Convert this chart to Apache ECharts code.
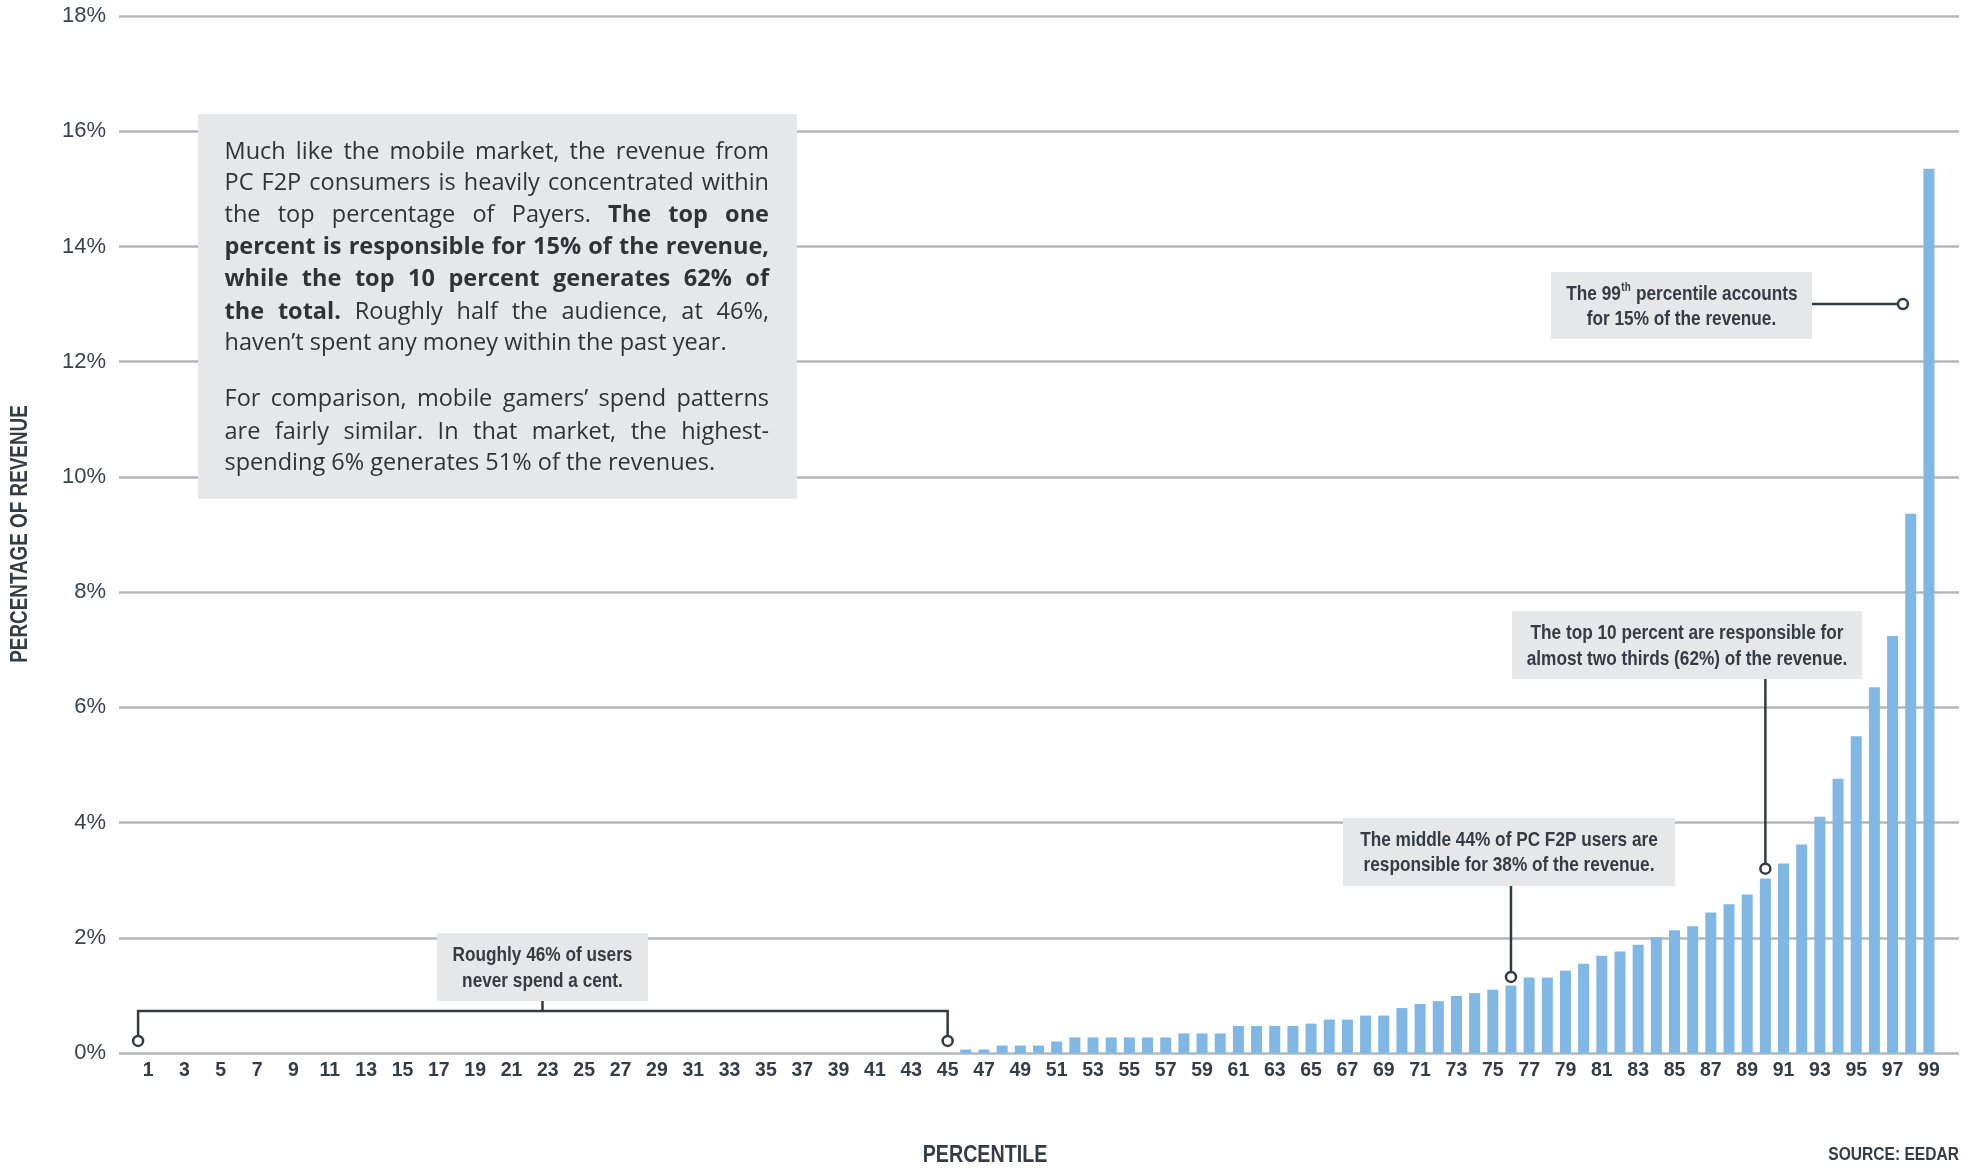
<!DOCTYPE html>
<html>
<head>
<meta charset="utf-8">
<title>PC F2P revenue by spender percentile</title>
<script src="https://cdn.jsdelivr.net/npm/echarts@6/dist/echarts.min.js"></script>
<style>
  html, body { margin: 0; padding: 0; background: #ffffff; }
  #chart { width: 1971px; height: 1168px; }
</style>
</head>
<body>
<div id="chart"></div>
<script>
// ---- data ---------------------------------------------------------------
const percentiles = Array.from({ length: 99 }, (_, i) => String(i + 1));

// share of total revenue (%) generated by each percentile of users
const revenueShare = [
  0, 0, 0, 0, 0, 0, 0, 0, 0, 0,                               // 1-10
  0, 0, 0, 0, 0, 0, 0, 0, 0, 0,                               // 11-20
  0, 0, 0, 0, 0, 0, 0, 0, 0, 0,                               // 21-30
  0, 0, 0, 0, 0, 0, 0, 0, 0, 0,                               // 31-40
  0, 0, 0, 0, 0, 0.06, 0.06, 0.13, 0.13, 0.13,                // 41-50
  0.20, 0.27, 0.27, 0.27, 0.27, 0.27, 0.27, 0.34, 0.34, 0.34, // 51-60
  0.47, 0.47, 0.47, 0.47, 0.51, 0.58, 0.58, 0.65, 0.65, 0.78, // 61-70
  0.85, 0.90, 0.99, 1.04, 1.10, 1.17, 1.31, 1.31, 1.43, 1.55, // 71-80
  1.69, 1.76, 1.88, 2.01, 2.13, 2.20, 2.44, 2.58, 2.75, 3.03, // 81-90
  3.29, 3.62, 4.10, 4.76, 5.50, 6.35, 7.24, 9.36, 15.35       // 91-99
];

const yMin = 0;
const yMax = 18;
const yStep = 2;

const paragraphLines = [
  { text: 'Much like the mobile market, the revenue from', justify: true },
  { text: 'PC F2P consumers is heavily concentrated within', justify: true },
  { text: 'the top percentage of Payers. **The top one**', justify: true },
  { text: '**percent is responsible for 15% of the revenue,**', justify: true },
  { text: '**while the top 10 percent generates 62% of**', justify: true },
  { text: '**the total.** Roughly half the audience, at 46%,', justify: true },
  { text: 'haven\u2019t spent any money within the past year.', justify: false },
  { text: 'For comparison, mobile gamers\u2019 spend patterns', justify: true },
  { text: 'are fairly similar. In that market, the highest-', justify: true },
  { text: 'spending 6% generates 51% of the revenues.', justify: false }
];

// ---- styling ------------------------------------------------------------
const SANS = '"Liberation Sans", Arial, sans-serif';
const BODY = '"Open Sans", "Noto Sans", sans-serif';
const NARROW_SCALE = 0.82;          // horizontal squeeze for the condensed captions
const INK = '#353c44';
const LEADER = '#323a42';
const GRID_GREY = '#b5b6b9';
const BAR_BLUE = '#80b7e4';
const NOTE_FILL = '#e6e7e8';

const chart = echarts.init(document.getElementById('chart'), null, { renderer: 'canvas' });

chart.setOption({
  animation: false,
  backgroundColor: '#ffffff',
  grid: [
    { left: 119, right: 12, top: 16, bottom: 115 },   // horizontal rules + value labels
    { left: 139, right: 33, top: 16, bottom: 115 }    // bars
  ],
  xAxis: [
    { gridIndex: 0, type: 'value', show: false, min: 0, max: 1 },
    {
      gridIndex: 1, type: 'category', data: percentiles,
      axisLine: { show: false }, axisTick: { show: false },
      axisLabel: {
        interval: 1, margin: 8, color: INK,
        fontFamily: SANS, fontWeight: 'bold', fontSize: 19.5
      }
    },
    { gridIndex: 1, type: 'value', show: false, min: 0.5, max: 99.5 }
  ],
  yAxis: [
    {
      gridIndex: 0, type: 'value', min: yMin, max: yMax, interval: yStep,
      axisLine: { show: false }, axisTick: { show: false },
      axisLabel: {
        formatter: '{value}%', margin: 13, color: '#3a424a',
        fontFamily: SANS, fontSize: 22
      },
      splitLine: { lineStyle: { color: GRID_GREY, width: 2.5 } }
    },
    { gridIndex: 1, type: 'value', min: yMin, max: yMax, interval: yStep, show: false }
  ],
  series: [{
    type: 'bar',
    xAxisIndex: 1,
    yAxisIndex: 1,
    data: revenueShare,
    barWidth: 11,
    silent: true,
    itemStyle: { color: BAR_BLUE }
  }]
});

// ---- annotations ----------------------------------------------------------
const measureCtx = document.createElement('canvas').getContext('2d');
function textWidth(str, font) {
  measureCtx.font = font;
  return measureCtx.measureText(str).width;
}
function text(str, x, y, font, align, fill, extra) {
  return Object.assign({
    type: 'text', x: x, y: y, z: 30, silent: true,
    style: { text: str, font: font, fill: fill || INK, textAlign: align || 'left', textVerticalAlign: 'middle' }
  }, extra || {});
}
// condensed caption text: bold sans squeezed horizontally
function ntext(str, x, y, size, align, extra) {
  return text(str, x, y, 'bold ' + size + 'px ' + SANS, align, INK,
    Object.assign({ scaleX: NARROW_SCALE, scaleY: 1 }, extra || {}));
}
function box(x, y, w, h) {
  return { type: 'rect', z: 20, silent: true, shape: { x: x, y: y, width: w, height: h }, style: { fill: NOTE_FILL } };
}
function leader(points) {
  return {
    type: 'polyline', z: 25, silent: true,
    shape: { points: points },
    style: { stroke: LEADER, lineWidth: 2.5, fill: null }
  };
}
function ring(p) {
  return {
    type: 'circle', z: 26, silent: true,
    shape: { cx: p[0], cy: p[1], r: 5 },
    style: { fill: '#ffffff', stroke: LEADER, lineWidth: 2.5 }
  };
}
const toPx = (pct, val) => chart.convertToPixel({ xAxisIndex: 2, yAxisIndex: 1 }, [pct, val]);

const NOTE_SIZE = 21;
const els = [];

// side paragraph, justified word by word
const PARA = { x: 198, y: 114, w: 599, h: 385, left: 224.5, right: 769 };
const paraRows = [152, 183, 215, 247, 279, 312, 343, 399, 432, 463];
const BODY_SIZE = 23.5;
const bodyFont = bold => (bold ? 'bold ' : '') + BODY_SIZE + 'px ' + BODY;
els.push(box(PARA.x, PARA.y, PARA.w, PARA.h));
paragraphLines.forEach((ln, i) => {
  const words = [];
  let bold = false;
  ln.text.split(' ').forEach(tok => {
    let t = tok;
    if (t.startsWith('**')) { bold = true; t = t.slice(2); }
    let close = false;
    if (t.endsWith('**')) { t = t.slice(0, -2); close = true; }
    words.push({ t: t, b: bold, w: textWidth(t, bodyFont(bold)) });
    if (close) bold = false;
  });
  const total = words.reduce((s, w) => s + w.w, 0);
  const span = PARA.right - PARA.left;
  const gap = ln.justify && words.length > 1
    ? (span - total) / (words.length - 1)
    : textWidth(' ', bodyFont(false));
  let x = PARA.left;
  words.forEach(w => {
    els.push(text(w.t, x, paraRows[i], bodyFont(w.b), 'left', '#2e3338'));
    x += w.w + gap;
  });
});

// the 99th percentile note
{
  const bx = 1551, by = 272, bw = 261, bh = 67, cx = bx + bw / 2;
  els.push(box(bx, by, bw, bh));
  const mainFont = 'bold ' + NOTE_SIZE + 'px ' + SANS;
  const supFont = 'bold 12px ' + SANS;
  const a = 'The 99', s = 'th', b = ' percentile accounts';
  const wa = textWidth(a, mainFont) * NARROW_SCALE;
  const ws = textWidth(s, supFont) * NARROW_SCALE;
  const wb = textWidth(b, mainFont) * NARROW_SCALE;
  const x = cx - (wa + ws + wb) / 2;
  els.push(ntext(a, x, 294, NOTE_SIZE, 'left'));
  els.push(ntext(s, x + wa + 0.5, 288, 12, 'left'));
  els.push(ntext(b, x + wa + ws + 1, 294, NOTE_SIZE, 'left'));
  els.push(ntext('for 15% of the revenue.', cx, 319, NOTE_SIZE, 'center'));
  const p = toPx(97.57, 13);
  els.push(leader([[bx + bw, p[1]], [p[0] - 5, p[1]]]));
  els.push(ring(p));
}

// top 10 percent note
{
  const bx = 1512, by = 611, bw = 350, bh = 68, cx = bx + bw / 2;
  els.push(box(bx, by, bw, bh));
  els.push(ntext('The top 10 percent are responsible for', cx, 633, NOTE_SIZE, 'center'));
  els.push(ntext('almost two thirds (62%) of the revenue.', cx, 659, NOTE_SIZE, 'center'));
  const p = toPx(90, 3.2);
  els.push(leader([[p[0], by + bh], [p[0], p[1] - 5]]));
  els.push(ring(p));
}

// middle 44 percent note
{
  const bx = 1343, by = 818, bw = 332, bh = 68, cx = bx + bw / 2;
  els.push(box(bx, by, bw, bh));
  els.push(ntext('The middle 44% of PC F2P users are', cx, 840, NOTE_SIZE, 'center'));
  els.push(ntext('responsible for 38% of the revenue.', cx, 865, NOTE_SIZE, 'center'));
  const p = toPx(76, 1.32);
  els.push(leader([[p[0], by + bh], [p[0], p[1] - 5]]));
  els.push(ring(p));
}

// non-spenders bracket
{
  const bx = 437, by = 933, bw = 211, bh = 68, cx = bx + bw / 2;
  els.push(box(bx, by, bw, bh));
  els.push(ntext('Roughly 46% of users', cx, 955, NOTE_SIZE, 'center'));
  els.push(ntext('never spend a cent.', cx, 981, NOTE_SIZE, 'center'));
  const l = toPx(0.45, 0.21);
  const r = toPx(45, 0.21);
  const level = toPx(22.68, 0.73)[1];
  els.push(leader([[l[0], l[1] - 5], [l[0], level], [r[0], level], [r[0], r[1] - 5]]));
  els.push(leader([[cx, by + bh], [cx, level]]));
  els.push(ring(l));
  els.push(ring(r));
}

// axis titles and source
els.push(ntext('PERCENTAGE OF REVENUE', 21, 534, 23, 'center', { rotation: Math.PI / 2 }));
els.push(ntext('PERCENTILE', 985, 1155, 24, 'center'));
els.push(ntext('SOURCE: EEDAR', 1959, 1155, 19, 'right'));

chart.setOption({ graphic: { elements: els } });
</script>
</body>
</html>
